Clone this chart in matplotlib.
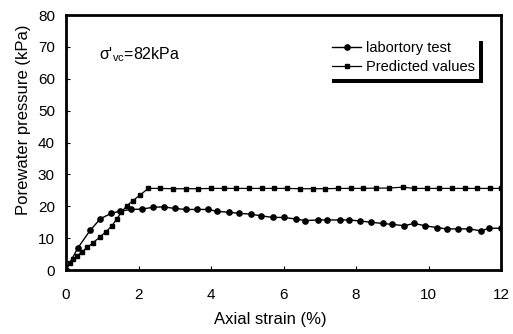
import matplotlib
matplotlib.use('Agg')
import matplotlib.pyplot as plt

plt.rcParams['font.family'] = ['Liberation Sans', 'DejaVu Sans']
plt.rcParams['mathtext.fontset'] = 'custom'
plt.rcParams['mathtext.rm'] = 'Liberation Sans'

# laboratory test, axial strain (%) vs porewater pressure (kPa)
lab_strain = [0, 0.33, 0.67, 0.95, 1.25, 1.5, 1.8, 2.1, 2.4, 2.7, 3.0, 3.3, 3.6,
              3.93, 4.16, 4.5, 4.77, 5.1, 5.38, 5.7, 6.0, 6.34, 6.6, 6.94, 7.2,
              7.56, 7.8, 8.1, 8.4, 8.74, 9.0, 9.33, 9.6, 9.9, 10.23, 10.5,
              10.82, 11.12, 11.44, 11.68, 12.0]
lab_pwp = [0, 7.0, 12.5, 16.1, 17.8, 18.5, 19.0, 19.1, 19.7, 19.8, 19.3, 19.0, 19.0,
           19.0, 18.4, 18.1, 17.8, 17.5, 17.0, 16.5, 16.5, 16.0, 15.5, 15.7, 15.7,
           15.7, 15.7, 15.4, 15.0, 14.6, 14.3, 13.9, 14.6, 13.9, 13.3, 12.9,
           12.9, 12.9, 12.3, 13.1, 13.1]

# predicted values
pred_strain = [0, 0.1, 0.2, 0.31, 0.43, 0.59, 0.75, 0.94, 1.1, 1.26, 1.4, 1.53,
               1.67, 1.85, 2.04, 2.27, 2.59, 2.95, 3.3, 3.65, 4.0, 4.35, 4.7,
               5.05, 5.4, 5.75, 6.1, 6.45, 6.8, 7.15, 7.5, 7.85, 8.2, 8.55, 8.9,
               9.3, 9.6, 9.95, 10.3, 10.65, 11.0, 11.35, 11.7, 12.0]
pred_pwp = [0, 2.2, 3.4, 4.4, 5.7, 7.1, 8.6, 10.4, 12.0, 13.8, 16.0, 18.2,
            20.1, 21.8, 23.5, 25.6, 25.6, 25.5, 25.5, 25.5, 25.6, 25.6, 25.6,
            25.6, 25.6, 25.6, 25.6, 25.5, 25.5, 25.5, 25.6, 25.6, 25.6, 25.7, 25.7,
            26.0, 25.6, 25.6, 25.6, 25.6, 25.6, 25.6, 25.6, 25.6]

fig = plt.figure(figsize=(5.13, 3.34), dpi=100)
ax = fig.add_axes([0.1287, 0.1916, 0.8479, 0.7634])

ax.plot(lab_strain, lab_pwp, color='black', lw=1.0, marker='o', ms=3.8,
        label='labortory test')
ax.plot(pred_strain, pred_pwp, color='black', lw=0.9, marker='s', ms=2.2,
        label='Predicted values')

ax.set_xlim(0, 12)
ax.set_ylim(0, 80)
ax.set_xticks([0, 2, 4, 6, 8, 10, 12])
ax.set_yticks(range(0, 81, 10))
ax.tick_params(direction='in', length=3, width=0.8, labelsize=11)
ax.tick_params(axis='x', pad=13)
ax.tick_params(axis='y', pad=8)
for s in ax.spines.values():
    s.set_linewidth(2.0)

ax.set_xlabel('Axial strain (%)', fontsize=12)
ax.set_ylabel('Porewater pressure (kPa)', fontsize=12)
ax.xaxis.set_label_coords(0.469, -0.165)
ax.yaxis.set_label_coords(-0.08, 0.59)

ax.text(0.9, 67.5, "σ'$_{\\mathregular{vc}}$=82kPa", fontsize=11.5,
        va='center', ha='left')

leg = ax.legend(loc='upper right', bbox_to_anchor=(0.95, 0.915), fontsize=10.5,
                frameon=True, fancybox=False, edgecolor='white',
                shadow={'ox': 3, 'oy': -3, 'color': 'black', 'alpha': 1},
                handlelength=2.0, handletextpad=0.3, borderpad=0.3,
                labelspacing=0.35, borderaxespad=0)
leg.get_frame().set_linewidth(0)

fig.savefig('out.png', dpi=100)
